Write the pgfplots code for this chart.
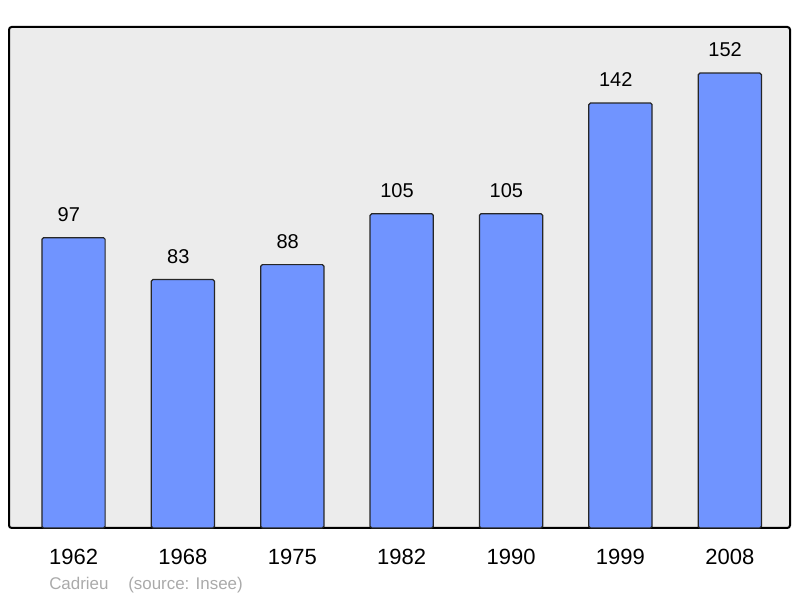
\documentclass[border=0pt]{standalone}
\usepackage{pgfplots}
\pgfplotsset{compat=1.18}
\usepackage{fontspec}
\setmainfont{Liberation Sans}
\definecolor{barblue}{RGB}{112,148,255}
\definecolor{bggray}{RGB}{236,236,236}
\definecolor{srcgray}{RGB}{170,170,170}
\begin{document}
\begin{tikzpicture}
\path (0,0) rectangle (600pt,448.5pt);
\begin{axis}[
    at={(6.75pt,52.5pt)}, anchor=south west,
    scale only axis,
    width=585.75pt, height=375.75pt,
    xmin=-0.59, xmax=6.55,
    ymin=0, ymax=167.4,
    /pgf/number format/assume math mode=true,
    axis background/.style={fill=bggray},
    axis line style={line width=1.5pt, rounded corners=2pt},
    xtick=data,
    xticklabels={1962,1968,1975,1982,1990,1999,2008},
    ytick=\empty,
    major tick length=0pt,
    xticklabel style={font=\fontsize{16.5}{18}\selectfont, yshift=-12pt},
    ybar, bar width=0.578, bar shift=0pt,
    nodes near coords,
    nodes near coords style={font=\fontsize{15}{17}\selectfont, anchor=south, yshift=8.25pt, xshift=-3.5pt},
    clip=false,
]
\addplot[fill=barblue, draw=black!85, line width=0.9pt, rounded corners=1.2pt] coordinates {
(0,97) (1,83) (2,88) (3,105) (4,105) (5,142) (6,152)
};
\end{axis}
\node[anchor=base west, text=srcgray, font=\fontsize{12.7}{14}\selectfont, inner sep=0pt] at (36.75pt,6.5pt) {Cadrieu};
\node[anchor=base west, text=srcgray, font=\fontsize{12.7}{14}\selectfont, inner sep=0pt] at (96pt,6.5pt) {(source: Insee)};
\pgfresetboundingbox
\useasboundingbox (0,0) rectangle (600pt,448.5pt);
\end{tikzpicture}
\end{document}
